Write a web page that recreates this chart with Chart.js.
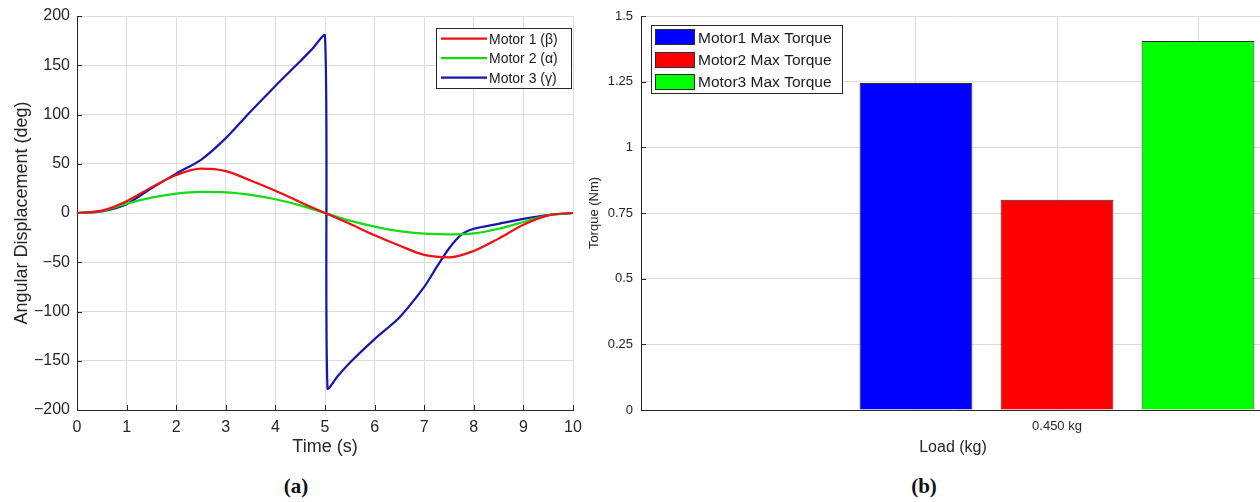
<!DOCTYPE html>
<html>
<head>
<meta charset="utf-8">
<script src="https://cdn.jsdelivr.net/npm/chart.js@4.4.1/dist/chart.umd.min.js"></script>
<style>
html, body { margin:0; padding:0; background:#ffffff; }
body { width:1260px; height:502px; overflow:hidden; position:relative; }
#wa { position:absolute; left:0; top:0; width:600px; height:470px; }
#wb { position:absolute; left:560px; top:0; width:720px; height:470px; }
.cap { position:absolute; top:486px; transform:translate(-50%,-50%); font-family:"Liberation Serif","DejaVu Serif",serif; font-weight:bold; font-size:21px; color:#111; line-height:1; }
</style>
</head>
<body>
<div id="wa"><canvas id="ca"></canvas></div>
<div id="wb"><canvas id="cb"></canvas></div>
<div class="cap" style="left:296px">(a)</div>
<div class="cap" style="left:924px">(b)</div>
<script>
// ---------- (a) angular displacement ----------
const timeA       = [0, 0.5, 1, 1.5, 2, 2.5, 3, 3.5, 4, 4.5, 5, 5.5, 6, 6.5, 7, 7.5, 8, 8.5, 9, 9.5, 10];
const motor1Beta  = [0, 2.4, 12, 26, 38.5, 45, 42.5, 33, 22.5, 11, 0, -11, -22.5, -33, -42.5, -45, -38.5, -26, -12, -2.4, 0];
const motor2Alpha = [0, 2, 9.5, 15.6, 19.7, 21.4, 21, 18.4, 14, 7.8, 0, -7.8, -13.8, -18.4, -21, -21.8, -20.7, -16, -9.2, -2.4, 0];
const timeGamma   = [0, 0.5, 1, 1.5, 2, 2.5, 3, 3.5, 4, 4.5, 4.75, 5, 5.05, 5.25, 5.5, 6, 6.5, 7, 7.25, 7.5, 7.75, 8, 8.5, 9, 9.5, 10];
const motor3Gamma = [0, 1.7, 9, 25, 40, 54, 76, 103, 129, 154, 167, 180, -178, -166, -152, -128, -106, -75, -55, -36, -22, -16, -11, -6, -2, 0];
const lineLabels  = ['Motor 1 (\u03B2)', 'Motor 2 (\u03B1)', 'Motor 3 (\u03B3)'];
const xTicksA     = [0, 1, 2, 3, 4, 5, 6, 7, 8, 9, 10];
const yTicksA     = [-200, -150, -100, -50, 0, 50, 100, 150, 200];

// ---------- (b) max torque ----------
const barLabels      = ['Motor1 Max Torque', 'Motor2 Max Torque', 'Motor3 Max Torque'];
const barSlots       = [1, 2, 3];
const maxTorque      = [1.245, 0.80, 1.405];
const barTickLabels  = ['', '0.450 kg', ''];
const yTicksB        = [0, 0.25, 0.5, 0.75, 1, 1.25, 1.5];
const yTickLabelsB   = ['0', '0.25', '0.5', '0.75', '1', '1.25', '1.5'];

Chart.defaults.font.family = '"Liberation Sans", Arial, Helvetica, sans-serif';
Chart.defaults.color = '#262626';

const pairs = (xs, ys) => xs.map((x, i) => ({ x: x, y: ys[i] }));

const inwardTicks = {
  id: 'inwardTicks',
  beforeDatasetsDraw(chart, args, o) {
    const ctx = chart.ctx, ca = chart.chartArea, len = o.len || 5;
    ctx.save();
    ctx.strokeStyle = '#262626';
    ctx.lineWidth = 1;
    if (o.x) {
      const s = chart.scales.x;
      s.ticks.forEach((t, i) => {
        const px = Math.round(s.getPixelForTick(i)) + 0.5;
        ctx.beginPath(); ctx.moveTo(px, ca.bottom); ctx.lineTo(px, ca.bottom - len); ctx.stroke();
      });
    }
    if (o.y) {
      const s = chart.scales.y;
      s.ticks.forEach((t, i) => {
        const py = Math.round(s.getPixelForTick(i)) + 0.5;
        ctx.beginPath(); ctx.moveTo(ca.left, py); ctx.lineTo(ca.left + len, py); ctx.stroke();
      });
    }
    ctx.restore();
  }
};

const boxLegend = {
  id: 'boxLegend',
  afterDraw(chart, args, o) {
    if (!o || !o.w) return;
    const ctx = chart.ctx, ca = chart.chartArea, ds = chart.data.datasets;
    const x0 = Math.round(o.anchor === 'right' ? ca.right - o.dx - o.w : ca.left + o.dx);
    const y0 = Math.round(ca.top + o.dy);
    ctx.save();
    ctx.fillStyle = '#ffffff';
    ctx.fillRect(x0, y0, o.w, o.h);
    ctx.strokeStyle = '#262626';
    ctx.lineWidth = 1;
    ctx.strokeRect(x0 + 0.5, y0 + 0.5, o.w, o.h);
    ctx.font = o.font;
    ctx.textBaseline = 'middle';
    ctx.textAlign = 'left';
    ds.forEach((d, i) => {
      const cy = y0 + o.first + i * o.step;
      if (o.kind === 'line') {
        ctx.strokeStyle = d.borderColor;
        ctx.lineWidth = 2.2;
        ctx.beginPath(); ctx.moveTo(x0 + o.sx, cy); ctx.lineTo(x0 + o.sx + o.sw, cy); ctx.stroke();
      } else {
        ctx.fillStyle = d.backgroundColor;
        ctx.fillRect(x0 + o.sx, Math.round(cy - o.sh / 2), o.sw, o.sh);
        ctx.strokeStyle = '#2a2a2a';
        ctx.lineWidth = 1;
        ctx.strokeRect(x0 + o.sx + 0.5, Math.round(cy - o.sh / 2) + 0.5, o.sw - 1, o.sh - 1);
      }
      ctx.fillStyle = '#1a1a1a';
      ctx.fillText(d.label, x0 + o.tx, cy + 1);
    });
    ctx.restore();
  }
};

const gridColor = '#dcdcdc';
const axisColor = '#262626';

new Chart(document.getElementById('ca'), {
  type: 'line',
  data: {
    datasets: [
      { label: lineLabels[0], data: pairs(timeA, motor1Beta), borderColor: '#ee1111', cubicInterpolationMode: 'monotone' },
      { label: lineLabels[1], data: pairs(timeA, motor2Alpha), borderColor: '#11dd11', cubicInterpolationMode: 'monotone' },
      { label: lineLabels[2], data: pairs(timeGamma, motor3Gamma), borderColor: '#1616aa', tension: 0.25 }
    ]
  },
  options: {
    responsive: true, maintainAspectRatio: false, animation: false,
    layout: { padding: { left: 0, right: 27, top: 16, bottom: 0 } },
    elements: { point: { radius: 0 }, line: { borderWidth: 2.2, fill: false } },
    plugins: {
      legend: { display: false }, tooltip: { enabled: false },
      inwardTicks: { x: true, y: true, len: 5 },
      boxLegend: { kind: 'line', anchor: 'right', dx: 2, dy: 12, w: 135, h: 60, sx: 5, sw: 46, tx: 53, first: 10.7, step: 19.5, font: '14px "Liberation Sans", Arial, sans-serif' }
    },
    scales: {
      x: {
        type: 'linear', min: 0, max: 10,
        afterBuildTicks: s => { s.ticks = xTicksA.map(v => ({ value: v })); },
        afterFit: s => { s.height = 60; s.paddingLeft = 0; s.paddingRight = 0; },
        grid: { color: gridColor, drawTicks: false },
        border: { color: axisColor, width: 1 },
        ticks: { padding: 8, font: { size: 16 }, maxRotation: 0, autoSkip: false },
        title: { display: true, text: 'Time (s)', font: { size: 18 }, padding: { top: 0, bottom: 12 } }
      },
      y: {
        type: 'linear', min: -200, max: 200,
        afterBuildTicks: s => { s.ticks = yTicksA.map(v => ({ value: v })); },
        afterFit: s => { s.width = 77; s.paddingTop = 0; s.paddingBottom = 0; },
        grid: { color: gridColor, drawTicks: false },
        border: { color: axisColor, width: 1 },
        ticks: { padding: 7, font: { size: 16 }, autoSkip: false, callback: v => (v < 0 ? '\u2212' + Math.abs(v) : String(v)) },
        title: { display: true, text: 'Angular Displacement (deg)', font: { size: 18 }, padding: { top: 11, bottom: 0 } }
      }
    }
  },
  plugins: [inwardTicks, boxLegend]
});

const barFill = ['#0000ff', '#ff0000', '#00ff00'];

new Chart(document.getElementById('cb'), {
  type: 'bar',
  data: {
    datasets: barLabels.map((lab, i) => ({
      label: lab,
      data: [{ x: barSlots[i], y: maxTorque[i] }],
      backgroundColor: barFill[i],
      borderColor: '#2a2a2a',
      borderWidth: 1,
      grouped: false,
      barPercentage: 0.8,
      categoryPercentage: 1
    }))
  },
  options: {
    responsive: true, maintainAspectRatio: false, animation: false,
    layout: { padding: { left: 0, right: 15, top: 16, bottom: 0 } },
    plugins: {
      legend: { display: false }, tooltip: { enabled: false },
      inwardTicks: { x: false, y: true, len: 5 },
      boxLegend: { kind: 'box', anchor: 'left', dx: 10, dy: 9, w: 191, h: 68, sx: 4, sw: 40, sh: 16, tx: 47, first: 12.3, step: 22.2, font: '15.5px "Liberation Sans", Arial, sans-serif' }
    },
    scales: {
      x: {
        type: 'linear', min: -0.95, max: 3.475, offset: false,
        afterBuildTicks: s => { s.ticks = barSlots.map(v => ({ value: v })); },
        afterFit: s => { s.height = 60; s.paddingLeft = 0; s.paddingRight = 0; },
        grid: { color: gridColor, drawTicks: false, offset: false },
        border: { color: axisColor, width: 1 },
        ticks: { padding: 9, font: { size: 13 }, maxRotation: 0, autoSkip: false, callback: (v, i) => barTickLabels[i] },
        title: { display: true, text: 'Load (kg)', font: { size: 16 }, padding: { top: 0, bottom: 13 } }
      },
      y: {
        type: 'linear', min: 0, max: 1.5,
        afterBuildTicks: s => { s.ticks = yTicksB.map(v => ({ value: v })); },
        afterFit: s => { s.width = 81; s.paddingTop = 0; s.paddingBottom = 0; },
        grid: { color: gridColor, drawTicks: false },
        border: { color: axisColor, width: 1 },
        ticks: { padding: 8, font: { size: 13 }, autoSkip: false, callback: (v, i) => yTickLabelsB[i] },
        title: { display: true, text: 'Torque (Nm)', font: { size: 13 }, padding: { top: 27, bottom: 0 } }
      }
    }
  },
  plugins: [inwardTicks, boxLegend]
});
</script>
</body>
</html>
